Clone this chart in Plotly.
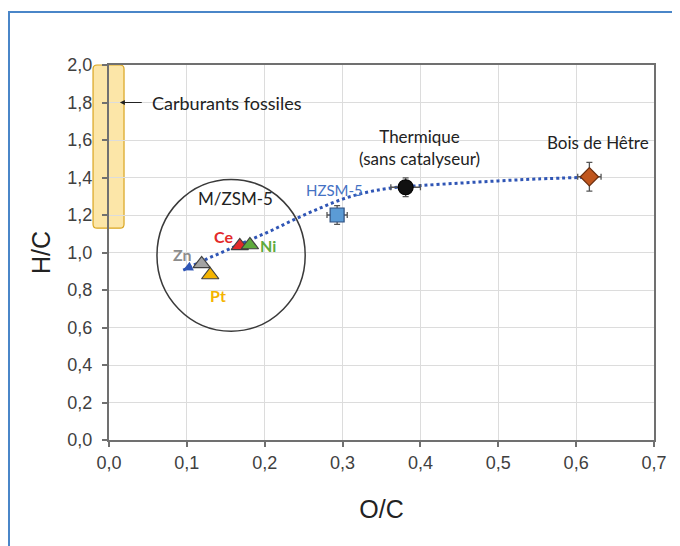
import plotly.graph_objects as go

# ---------------- data ----------------
samples = ["Bois de Hêtre", "Thermique", "HZSM-5", "Ce", "Ni", "Zn", "Pt"]
oc = [0.617, 0.381, 0.293, 0.168, 0.181, 0.119, 0.130]
hc = [1.404, 1.348, 1.200, 1.035, 1.040, 0.939, 0.880]
oc_err = [0.015, 0.019, 0.013, 0, 0, 0, 0]
hc_err = [0.077, 0.050, 0.050, 0, 0, 0, 0]
symbols = ["diamond", "circle", "square", "triangle-up", "triangle-up", "triangle-up", "triangle-up"]
fills = ["#C0561E", "#111111", "#5B9BD5", "#E32A2A", "#5EAA3C", "#A3A3A3", "#F4B400"]
outlines = ["#6B2E0E", "#000000", "#2F4F7F", "#404040", "#404040", "#404040", "#404040"]
sizes = [14, 15, 14, 15, 15, 15, 15]

# trend (dotted blue curve)
trend_oc = [0.617, 0.55, 0.50, 0.45, 0.40, 0.36, 0.33, 0.30, 0.27, 0.24, 0.21, 0.18, 0.15, 0.12, 0.095]
trend_hc = [1.402, 1.392, 1.382, 1.370, 1.357, 1.343, 1.320, 1.285, 1.235, 1.180, 1.120, 1.065, 1.010, 0.955, 0.905]

# fossil-fuel band and M/ZSM-5 group circle
fossil_oc = [-0.0205, 0.0193]
fossil_hc = [1.13, 2.0]
group_oc = [0.0616, 0.252]
group_hc = [0.58, 1.39]

x_ticks = [0.0, 0.1, 0.2, 0.3, 0.4, 0.5, 0.6, 0.7]
y_ticks = [0.0, 0.2, 0.4, 0.6, 0.8, 1.0, 1.2, 1.4, 1.6, 1.8, 2.0]
X_RANGE = [0.0, 0.7]
Y_RANGE = [0.0, 2.0]

TXT = "Lato"
NUM = "Liberation Sans, Arial"

fig = go.Figure()

# trend curve
fig.add_trace(go.Scatter(
    x=trend_oc, y=trend_hc, mode="lines",
    line=dict(color="#2F55B5", width=3, dash="dot", shape="spline"),
    hoverinfo="skip", showlegend=False))

# points with error bars
for i in range(len(samples)):
    fig.add_trace(go.Scatter(
        x=[oc[i]], y=[hc[i]], mode="markers", name=samples[i],
        marker=dict(symbol=symbols[i], size=sizes[i], color=fills[i],
                    line=dict(color=outlines[i], width=1.2)),
        error_x=dict(type="data", array=[oc_err[i]], visible=oc_err[i] > 0,
                     color="#555555", thickness=1.3, width=3),
        error_y=dict(type="data", array=[hc_err[i]], visible=hc_err[i] > 0,
                     color="#555555", thickness=1.3, width=3),
        showlegend=False))

def px(v):  # data -> paper (x)
    return (v - X_RANGE[0]) / (X_RANGE[1] - X_RANGE[0])

def py(v):  # data -> paper (y)
    return (v - Y_RANGE[0]) / (Y_RANGE[1] - Y_RANGE[0])

# rounded fossil band (paper coords so it is not clipped)
x0, x1 = px(fossil_oc[0]), px(fossil_oc[1])
y0, y1 = py(fossil_hc[0]), py(fossil_hc[1])
rx, ry = 4 / 545, 4 / 375
path = (f"M {x0+rx},{y0} L {x1-rx},{y0} Q {x1},{y0} {x1},{y0+ry} "
        f"L {x1},{y1-ry} Q {x1},{y1} {x1-rx},{y1} L {x0+rx},{y1} "
        f"Q {x0},{y1} {x0},{y1-ry} L {x0},{y0+ry} Q {x0},{y0} {x0+rx},{y0} Z")
fig.add_shape(type="path", path=path, xref="paper", yref="paper",
              fillcolor="rgba(250,214,110,0.6)", line=dict(color="#D9A520", width=1.2),
              layer="below")

# group circle
fig.add_shape(type="circle", xref="x", yref="y",
              x0=group_oc[0], x1=group_oc[1], y0=group_hc[0], y1=group_hc[1],
              line=dict(color="#3A3A3A", width=1.5), layer="above")

# outer blue frame
fig.add_shape(type="rect", xref="paper", yref="paper",
              x0=-100 / 545, x1=1.3, y0=-0.5, y1=428 / 375,
              line=dict(color="#4A86C8", width=2), fillcolor="rgba(0,0,0,0)")

# arrow at end of trend
fig.add_annotation(x=trend_oc[-1], y=trend_hc[-1],
                   ax=trend_oc[-1] + (trend_oc[-2] - trend_oc[-1]) * 0.5,
                   ay=trend_hc[-1] + (trend_hc[-2] - trend_hc[-1]) * 0.5,
                   xref="x", yref="y", axref="x", ayref="y", text="",
                   showarrow=True, arrowhead=2, arrowsize=1.3, arrowwidth=1.5,
                   arrowcolor="#2F55B5")

# fossil arrow
fig.add_annotation(x=0.014, y=1.8, ax=0.044, ay=1.8, xref="x", yref="y",
                   axref="x", ayref="y", text="", showarrow=True,
                   arrowhead=2, arrowsize=1, arrowwidth=1, arrowcolor="#222222")

labels = [
    ("Carburants fossiles", 0.1515, 1.797, "#222222", 18, False),
    ("M/ZSM-5", 0.162, 1.290, "#222222", 17, False),
    ("Thermique<br>(sans catalyseur)", 0.399, 1.560, "#222222", 17, False),
    ("Bois de Hêtre", 0.628, 1.589, "#222222", 17, False),
    ("HZSM-5", 0.289, 1.336, "#4472C4", 15, False),
    ("Ce", 0.1465, 1.085, "#E32A2A", 16, True),
    ("Ni", 0.204, 1.040, "#5EAA3C", 16, True),
    ("Zn", 0.095, 0.987, "#8C8C8C", 16, True),
    ("Pt", 0.140, 0.773, "#F4B400", 16, True),
]
for t, x, y, c, s, b in labels:
    fig.add_annotation(x=x, y=y, xref="x", yref="y", showarrow=False,
                       text=f"<b>{t}</b>" if b else t,
                       font=dict(family=TXT, size=s, color=c),
                       xanchor="center", yanchor="middle")

fig.update_xaxes(range=X_RANGE, tickvals=x_ticks, tickformat=".1f",
                 showgrid=True, gridcolor="#DCDCDC", gridwidth=1,
                 showline=True, linecolor="#707070", linewidth=2, mirror=True,
                 ticks="outside", ticklen=5, tickcolor="#707070", tickwidth=1.5,
                 zeroline=False,
                 tickfont=dict(family=NUM, size=18, color="#404040"),
                 title=dict(text="O/C", font=dict(family=NUM, size=25, color="#222222"),
                            standoff=29),
                 automargin=False)
fig.update_yaxes(range=Y_RANGE, tickvals=y_ticks, tickformat=".1f",
                 showgrid=True, gridcolor="#DCDCDC", gridwidth=1,
                 showline=True, linecolor="#707070", linewidth=2, mirror=True,
                 ticks="outside", ticklen=5, tickcolor="#707070", tickwidth=1.5,
                 ticklabelstandoff=6,
                 zeroline=False,
                 tickfont=dict(family=NUM, size=18, color="#404040"),
                 title=dict(text="H/C", font=dict(family=NUM, size=25, color="#222222"),
                            standoff=10),
                 automargin=False)

fig.update_layout(width=680, height=546,
                  margin=dict(l=101, r=34, t=57, b=114),
                  paper_bgcolor="white", plot_bgcolor="white",
                  separators=", ", showlegend=False)

fig.write_html("out.html")
